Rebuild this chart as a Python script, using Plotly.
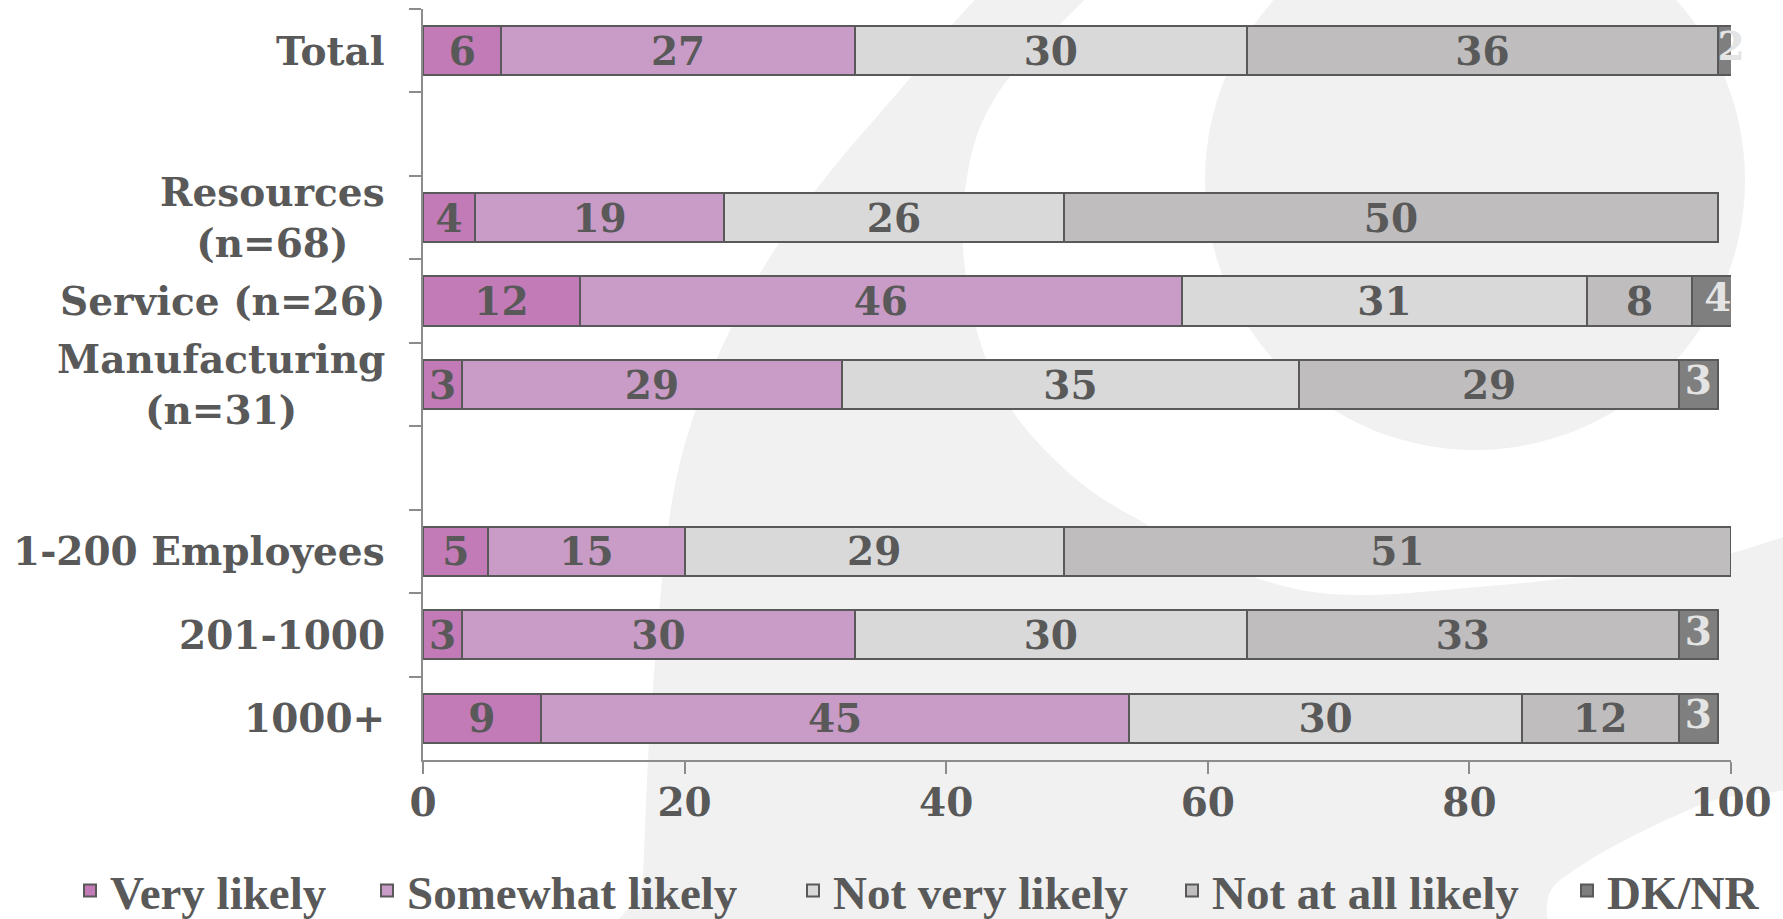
import numpy as np
import plotly.graph_objects as go

# Row labels (blank strings are spacer rows between groups)
categories = [
    "Total",
    " ",
    "Resources<br>(n=68)",
    "Service (n=26)",
    "Manufacturing<br>(n=31)",
    "  ",
    "1-200 Employees",
    "201-1000",
    "1000+",
]

series_names = ["Very likely", "Somewhat likely", "Not very likely", "Not at all likely", "DK/NR"]

very_likely = [6, None, 4, 12, 3, None, 5, 3, 9]
somewhat_likely = [27, None, 19, 46, 29, None, 15, 30, 45]
not_very_likely = [30, None, 26, 31, 35, None, 29, 30, 30]
not_at_all_likely = [36, None, 50, 8, 29, None, 51, 33, 12]
dk_nr = [2, None, None, 4, 3, None, None, 3, 3]

x_ticks = [0, 20, 40, 60, 80, 100]

series_values = [very_likely, somewhat_likely, not_very_likely, not_at_all_likely, dk_nr]
fill_colors = ["#C27BB6", "#C99BC7", "#D9D9D9", "#BFBDBE", "#7F7F7F"]
label_colors = ["#595959", "#595959", "#595959", "#595959", "#E4E4E4"]

SERIF = "DejaVu Serif"
LEGEND_FONT = "Liberation Serif"
TEXT_GRAY = "#595959"
AXIS_GRAY = "#8C8C8C"
WATERMARK = "#F1F1F1"
FONT_SIZE = 39

# Figure geometry (pixels)
W, H = 1783, 919
M_L, M_R, M_T, M_B = 423, 52, 9, 159
PW, PH = W - M_L - M_R, H - M_T - M_B


def px_to_paper(px, py):
    return (px - M_L) / PW, 1 - (py - M_T) / PH


def smooth_closed_path(points):
    """Closed Catmull-Rom spline through pixel points, returned as an SVG path in paper units."""
    pts = [px_to_paper(*p) for p in points]
    n = len(pts)
    d = f"M{pts[0][0]:.4f},{pts[0][1]:.4f}"
    for i in range(n):
        p0, p1, p2, p3 = pts[i - 1], pts[i], pts[(i + 1) % n], pts[(i + 2) % n]
        c1 = (p1[0] + (p2[0] - p0[0]) / 6, p1[1] + (p2[1] - p0[1]) / 6)
        c2 = (p2[0] - (p3[0] - p1[0]) / 6, p2[1] - (p3[1] - p1[1]) / 6)
        d += f" C{c1[0]:.4f},{c1[1]:.4f} {c2[0]:.4f},{c2[1]:.4f} {p2[0]:.4f},{p2[1]:.4f}"
    return d + " Z"


fig = go.Figure()

legend_ids = ["legend", "legend2", "legend3", "legend4", "legend5"]

for i, (name, vals) in enumerate(zip(series_names, series_values)):
    is_last = i == len(series_names) - 1
    fig.add_trace(
        go.Bar(
            y=categories,
            x=vals,
            name=f"<b>{name}</b>",
            orientation="h",
            marker=dict(color=fill_colors[i], line=dict(color=TEXT_GRAY, width=2)),
            texttemplate=None if is_last else "%{x}",
            textposition="none" if is_last else "inside",
            insidetextanchor="middle",
            textangle=0,
            constraintext="none",
            textfont=dict(family=SERIF, size=FONT_SIZE, color=label_colors[i], weight="bold"),
            legend=legend_ids[i],
            hoverinfo="x+y",
        )
    )

# DK/NR value labels sit on top so they are not clipped at the right edge
stack = np.array([[v if v is not None else 0 for v in s] for s in series_values], dtype=float)
dk_base = stack[:4].sum(axis=0)
dk_vals = np.array([v if v is not None else np.nan for v in dk_nr], dtype=float)
mask = ~np.isnan(dk_vals)
fig.add_trace(
    go.Scatter(
        x=(dk_base + dk_vals / 2)[mask],
        y=[c for c, m in zip(categories, mask) if m],
        mode="text",
        text=[f"{int(v)}" for v in dk_vals[mask]],
        textfont=dict(family=SERIF, size=FONT_SIZE, color=label_colors[4], weight="bold"),
        cliponaxis=False,
        showlegend=False,
        hoverinfo="skip",
    )
)

# Row labels, centred line-by-line and right-aligned against the axis
annotations = []
for cat in categories:
    if not cat.strip():
        continue
    annotations.append(
        dict(
            x=0, xref="paper", y=cat, yref="y",
            text=cat, showarrow=False,
            xanchor="right", xshift=-36, align="center",
            font=dict(family=SERIF, size=FONT_SIZE, color=TEXT_GRAY, weight="bold"),
        )
    )

# Faint logo watermark behind the chart
swoosh = [
    (640, 990), (643, 880), (652, 700), (676, 480), (730, 330), (805, 205),
    (900, 90), (1000, -20), (1120, -45),
    (1000, 90), (965, 190), (968, 290), (995, 380), (1045, 450), (1130, 515),
    (1300, 590), (1500, 585), (1700, 560), (1840, 545),
    (1840, 760), (1700, 805), (1560, 880), (1450, 990),
]
head_cx, head_cy, head_r = 1475, 180, 270
hx0, hy0 = px_to_paper(head_cx - head_r, head_cy + head_r)
hx1, hy1 = px_to_paper(head_cx + head_r, head_cy - head_r)
shapes = [
    dict(type="path", xref="paper", yref="paper", path=smooth_closed_path(swoosh),
         fillcolor=WATERMARK, line=dict(width=0), layer="below"),
    dict(type="circle", xref="paper", yref="paper", x0=hx0, y0=hy0, x1=hx1, y1=hy1,
         fillcolor=WATERMARK, line=dict(width=0), layer="below"),
]

# One legend per series so each entry sits at its own spot along the bottom
legend_text_px = [115, 412, 838, 1217, 1612]
legend_layouts = {}
for lid, tx in zip(legend_ids, legend_text_px):
    lx, ly = px_to_paper(tx - 45, 891)
    legend_layouts[lid] = dict(
        x=lx, y=ly, xanchor="left", yanchor="middle",
        orientation="h", bgcolor="rgba(0,0,0,0)",
        font=dict(family=LEGEND_FONT, size=47, color=TEXT_GRAY),
        itemclick=False, itemdoubleclick=False,
    )

fig.update_layout(
    width=W, height=H,
    margin=dict(l=M_L, r=M_R, t=M_T, b=M_B, pad=0, autoexpand=False),
    paper_bgcolor="white",
    plot_bgcolor="rgba(0,0,0,0)",
    barmode="stack",
    bargap=0.41,
    showlegend=True,
    shapes=shapes,
    annotations=annotations,
    xaxis=dict(
        range=[0, 100], tickvals=x_ticks, ticks="outside", ticklen=12,
        tickcolor=AXIS_GRAY, tickwidth=1.5, showline=True, linecolor=AXIS_GRAY, linewidth=1.5,
        showgrid=False, zeroline=False, ticklabelstandoff=-5,
        tickfont=dict(family=SERIF, size=FONT_SIZE, color=TEXT_GRAY, weight="bold"),
    ),
    yaxis=dict(
        type="category", categoryorder="array", categoryarray=categories,
        autorange="reversed", tickson="boundaries", ticks="outside", ticklen=12,
        tickcolor=AXIS_GRAY, tickwidth=1.5, showline=True, linecolor=AXIS_GRAY, linewidth=1.5,
        showgrid=False, zeroline=False, showticklabels=False,
    ),
    **legend_layouts,
)

fig.write_html("out.html")
